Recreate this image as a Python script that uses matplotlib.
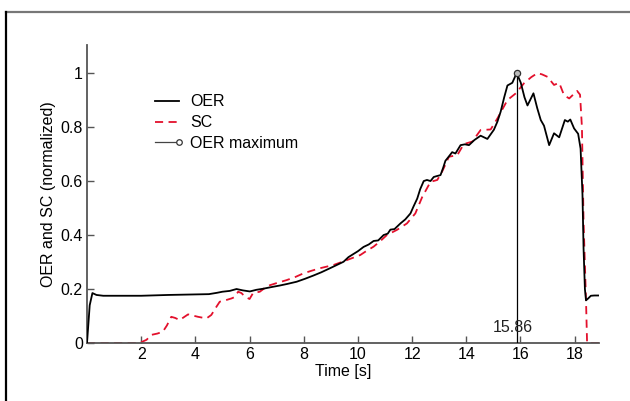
import matplotlib
matplotlib.use("Agg")
import matplotlib.pyplot as plt
from matplotlib.lines import Line2D
from matplotlib.legend_handler import HandlerBase

plt.rcParams['font.family'] = ['Liberation Sans', 'DejaVu Sans']

# ---- data ----
oer_t = [0, 0.1, 0.2, 0.35, 0.6, 1.0, 2.0, 3.0, 3.5, 4.0, 4.5, 4.8, 5.0, 5.27, 5.52, 5.75,
         6.01, 6.25, 6.5, 6.8, 7.12, 7.4, 7.74, 8.05, 8.36, 8.65, 8.97, 9.2, 9.47, 9.65,
         9.84, 10.0, 10.21, 10.4, 10.58, 10.75, 10.95, 11.1, 11.2, 11.35, 11.57, 11.75,
         11.94, 12.05, 12.19, 12.3, 12.43, 12.55, 12.68, 12.8, 12.9, 13.05, 13.15, 13.23,
         13.35, 13.48, 13.6, 13.79, 13.95, 14.1, 14.3, 14.53, 14.78, 15.02, 15.15, 15.27,
         15.4, 15.52, 15.7, 15.86, 16.01, 16.15, 16.26, 16.48, 16.62, 16.75, 16.87, 17.06,
         17.24, 17.43, 17.64, 17.75, 17.84, 17.98, 18.13, 18.22, 18.29, 18.33, 18.38,
         18.42, 18.5, 18.6, 18.73, 18.9]
oer_v = [0, 0.14, 0.185, 0.178, 0.175, 0.175, 0.175, 0.178, 0.179, 0.18, 0.181, 0.186,
         0.19, 0.193, 0.2, 0.195, 0.191, 0.197, 0.201, 0.207, 0.213, 0.219, 0.227, 0.238,
         0.25, 0.262, 0.277, 0.288, 0.301, 0.318, 0.33, 0.34, 0.356, 0.365, 0.378, 0.38,
         0.4, 0.405, 0.42, 0.422, 0.443, 0.458, 0.48, 0.505, 0.535, 0.57, 0.6, 0.604, 0.6,
         0.615, 0.618, 0.622, 0.65, 0.675, 0.69, 0.707, 0.702, 0.733, 0.736, 0.733, 0.752,
         0.768, 0.756, 0.79, 0.82, 0.857, 0.91, 0.954, 0.964, 1.0, 0.965, 0.91, 0.88, 0.925,
         0.87, 0.826, 0.805, 0.733, 0.777, 0.762, 0.826, 0.82, 0.828, 0.795, 0.775, 0.72,
         0.55, 0.35, 0.2, 0.158, 0.165, 0.175, 0.176, 0.176]

sc_t = [0, 1.94, 2.2, 2.37, 2.6, 2.8, 2.95, 3.11, 3.25, 3.42, 3.73, 4.1, 4.41, 4.59, 4.75,
        4.9, 5.1, 5.33, 5.45, 5.58, 5.7, 5.83, 6.0, 6.13, 6.38, 6.63, 6.75, 7.0, 7.37, 7.7,
        7.99, 8.3, 8.6, 9.1, 9.59, 10.09, 10.3, 10.58, 10.8, 11.07, 11.44, 11.81, 12.12,
        12.37, 12.68, 12.93, 13.11, 13.36, 13.67, 13.91, 14.22, 14.53, 14.9, 15.15, 15.52,
        15.83, 16.13, 16.4, 16.63, 16.8, 17.0, 17.24, 17.43, 17.61, 17.8, 18.09, 18.2,
        18.27, 18.33, 18.42, 18.46, 18.9]
sc_v = [0, 0, 0.012, 0.03, 0.035, 0.042, 0.065, 0.097, 0.093, 0.085, 0.106, 0.097, 0.091,
        0.104, 0.13, 0.153, 0.158, 0.165, 0.17, 0.19, 0.185, 0.172, 0.163, 0.185, 0.19,
        0.209, 0.214, 0.222, 0.233, 0.245, 0.258, 0.268, 0.277, 0.289, 0.307, 0.326, 0.34,
        0.357, 0.375, 0.4, 0.419, 0.443, 0.48, 0.54, 0.597, 0.604, 0.635, 0.69, 0.696,
        0.737, 0.746, 0.789, 0.791, 0.832, 0.9, 0.925, 0.962, 0.985, 1.0, 0.995, 0.986,
        0.956, 0.964, 0.918, 0.906, 0.934, 0.92, 0.8, 0.45, 0.16, 0, 0]

oer_max_t = 15.86
oer_max_v = 1.0

x_ticks = [2, 4, 6, 8, 10, 12, 14, 16, 18]
y_ticks = [0, 0.2, 0.4, 0.6, 0.8, 1.0]
y_tick_labels = ['0', '0.2', '0.4', '0.6', '0.8', '1']

RED = '#e3102c'
FS = 11.5

fig = plt.figure(figsize=(6.30, 4.01), dpi=100)
ax = fig.add_axes([87 / 630, 1 - 343 / 401, (599 - 87) / 630, (343 - 45) / 401])

ax.plot(oer_t, oer_v, color='black', lw=1.3, label='OER', zorder=3)
sc_line, = ax.plot(sc_t, sc_v, color=RED, lw=1.3, label='SC', zorder=2)
sc_line.set_dashes([4.5, 3])
ax.plot([oer_max_t, oer_max_t], [0, oer_max_v], color='black', lw=0.9, zorder=4)
ax.plot([oer_max_t], [oer_max_v], marker='o', ms=4.5, mfc='#bbbbbb', mec='#333333',
        mew=0.9, ls='none', zorder=5)
ax.text(oer_max_t - 0.14, 0.04, f'{oer_max_t:.2f}', ha='center', va='baseline',
        fontsize=FS, color='#222222', zorder=6)

ax.set_xlim(0, 18.9)
ax.set_ylim(0, 1.104)
ax.set_xticks(x_ticks)
ax.set_yticks(y_ticks)
ax.set_yticklabels(y_tick_labels)
ax.tick_params(direction='in', length=5, width=1, colors='#555555', labelcolor='black',
               labelsize=FS, pad=3)
for s in ('top', 'right'):
    ax.spines[s].set_visible(False)
for s in ('left', 'bottom'):
    ax.spines[s].set_color('#555555')
    ax.spines[s].set_linewidth(1.3)
ax.set_xlabel('Time [s]', fontsize=FS, labelpad=1)
ax.set_ylabel('OER and SC (normalized)', fontsize=FS, labelpad=3)


class HandlerStemEnd(HandlerBase):
    def create_artists(self, legend, orig_handle, xdescent, ydescent, width, height,
                       fontsize, trans):
        y = height / 2 - ydescent
        ln = Line2D([-xdescent, width - xdescent], [y, y], color='#444444', lw=0.9)
        mk = Line2D([width - xdescent], [y], marker='o', ms=4, mfc='white',
                    mec='#333333', mew=0.9, ls='none')
        ln.set_transform(trans)
        mk.set_transform(trans)
        return [ln, mk]


h_oer = Line2D([], [], color='black', lw=1.3)
h_sc = Line2D([], [], color=RED, lw=1.3, dashes=[4.5, 3])
h_max = Line2D([], [], color='black')
fig.legend([h_oer, h_sc, h_max], ['OER', 'SC', 'OER maximum'],
           handler_map={h_max: HandlerStemEnd()},
           loc='upper left', bbox_to_anchor=(155 / 630, 1 - 94.5 / 401),
           bbox_transform=fig.transFigure, frameon=False, fontsize=FS,
           borderpad=0, borderaxespad=0, handlelength=1.5, handletextpad=0.7,
           labelspacing=0.36)

# outer frame lines (top gray, left black)
fig.add_artist(Line2D([6 / 630, 1], [1 - 12 / 401, 1 - 12 / 401], color='#777777',
                      lw=1.6, transform=fig.transFigure))
fig.add_artist(Line2D([6 / 630, 6 / 630], [0, 1 - 12 / 401], color='black',
                      lw=1.6, transform=fig.transFigure))

fig.savefig('out.png', dpi=100)
